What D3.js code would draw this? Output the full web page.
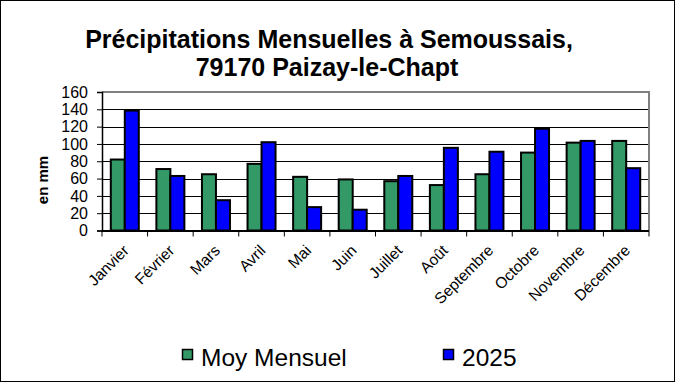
<!DOCTYPE html>
<html><head><meta charset="utf-8">
<script src="https://cdn.jsdelivr.net/npm/d3@7"></script>
<style>body{margin:0;background:#fff}svg{display:block;font-family:"Liberation Sans",Arial,sans-serif}</style>
</head><body>
<script>
const months = ["Janvier","Février","Mars","Avril","Mai","Juin","Juillet","Août","Septembre","Octobre","Novembre","Décembre"];
const moyMensuel = [82,71,65,77,62,59,57,52.5,65,90,101.5,103.5];
const an2025 = [138.5,63,35,102,27,24,63,95.5,91,117.5,103.5,72];
const yTicks = [0,20,40,60,80,100,120,140,160];
const seriesNames = ["Moy Mensuel","2025"];
const colors = ["#339966","#0000FF"];

const W=675,H=382;
const svg=d3.select("body").append("svg").attr("width",W).attr("height",H);
svg.append("rect").attr("x",0.5).attr("y",0.5).attr("width",W-1).attr("height",H-1).attr("fill","#fff").attr("stroke","#000");

const L=102,R=649,T=92,B=230.5;
const x=d3.scaleBand().domain(months).range([L,R]);
const y=d3.scaleLinear().domain([0,160]).range([B,T]);
const inner=d3.scaleBand().domain(seriesNames).range([0,28]);
const off=(x.bandwidth()-28)/2;

// gridlines
svg.append("g").selectAll("line").data(yTicks.filter(d=>d>0&&d<160)).join("line")
 .attr("x1",L).attr("x2",R).attr("y1",d=>Math.round(y(d))+0.5).attr("y2",d=>Math.round(y(d))+0.5).attr("stroke","#000");
// plot border top/right gray
svg.append("path").attr("d",`M${L},${T}H${R}V${B}`).attr("fill","none").attr("stroke","#808080").attr("stroke-width",2);

// bars
const data=[moyMensuel,an2025];
data.forEach((vals,si)=>{
  svg.append("g").selectAll("rect").data(vals).join("rect")
   .attr("x",(d,i)=>x(months[i])+off+inner(seriesNames[si]))
   .attr("y",d=>y(d)).attr("width",inner.bandwidth()).attr("height",d=>B-y(d))
   .attr("fill",colors[si]).attr("stroke","#000").attr("stroke-width",2);
});

// y axis
const ya=svg.append("g").attr("transform",`translate(${L},0)`).call(d3.axisLeft(y).tickValues(yTicks).tickSize(5).tickFormat(d3.format("d")));
ya.select(".domain").attr("stroke","#000").attr("stroke-width",1.5);
ya.selectAll("text").attr("font-size",16).attr("fill","#000").attr("font-family","Liberation Sans, Arial, sans-serif").attr("x",-14);
ya.selectAll(".tick line").attr("stroke","#000");

// x axis
svg.append("line").attr("x1",L).attr("x2",R).attr("y1",B+0.5).attr("y2",B+0.5).attr("stroke","#000").attr("stroke-width",2);
const bounds=months.map(m=>x(m)).concat([R]);
svg.append("g").selectAll("line").data(bounds).join("line")
 .attr("x1",d=>d).attr("x2",d=>d).attr("y1",B).attr("y2",B+6).attr("stroke","#000");
svg.append("g").selectAll("text").data(months).join("text")
 .attr("transform",d=>`translate(${x(d)+x.bandwidth()/2+5},${B+21}) rotate(-45)`)
 .attr("text-anchor","end").attr("font-size",15.5).text(d=>d);

// y label
svg.append("text").attr("transform",`translate(48,180) rotate(-90)`).attr("text-anchor","middle")
 .attr("font-size",15).attr("font-weight","bold").text("en mm");

// title
svg.append("text").attr("x",329).attr("y",48).attr("text-anchor","middle").attr("font-size",25).attr("font-weight","bold").text("Précipitations Mensuelles à Semoussais,");
svg.append("text").attr("x",327).attr("y",76).attr("text-anchor","middle").attr("font-size",25).attr("font-weight","bold").text("79170 Paizay-le-Chapt");

// legend
const legX=[182,443];
seriesNames.forEach((n,i)=>{
  svg.append("rect").attr("x",legX[i]+0.5).attr("y",349.5).attr("width",10).attr("height",10).attr("fill",colors[i]).attr("stroke","#000").attr("stroke-width",1.5);
  svg.append("text").attr("x",legX[i]+19).attr("y",366).attr("font-size",24.5).text(n);
});
</script>
</body></html>
